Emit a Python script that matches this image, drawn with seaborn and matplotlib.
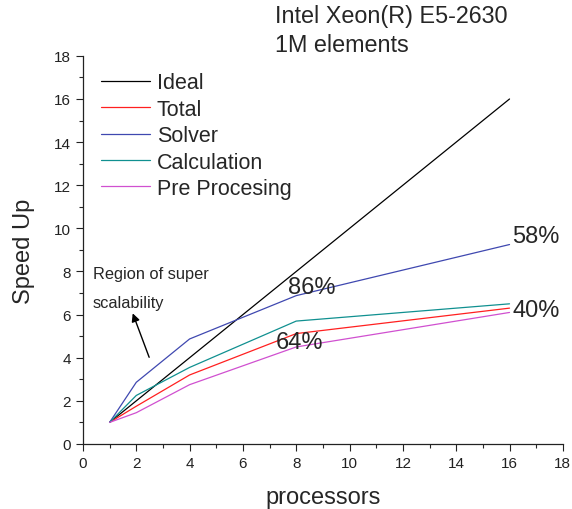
import matplotlib
matplotlib.use("Agg")
import matplotlib.pyplot as plt
from matplotlib.ticker import MultipleLocator
import seaborn as sns
import pandas as pd

# Speed-up measurements, 1M elements on Intel Xeon E5-2630
processors = [1, 2, 4, 8, 16]
ideal = [1, 2, 4, 8, 16]
total = [1, 1.75, 3.2, 5.12, 6.3]
solver = [1, 2.86, 4.87, 6.88, 9.25]
calculation = [1, 2.25, 3.55, 5.7, 6.5]
pre_processing = [1, 1.45, 2.75, 4.5, 6.1]

series_names = ["Ideal", "Total", "Solver", "Calculation", "Pre Procesing"]
series_values = [ideal, total, solver, calculation, pre_processing]
series_colors = ["#000000", "#ff2020", "#3f48b0", "#109090", "#d050d0"]

efficiency_labels = ["86%", "64%", "58%", "40%"]

sns.set_style("ticks")
plt.rcParams["font.family"] = ["Liberation Sans", "DejaVu Sans"]

rows = []
for name, vals in zip(series_names, series_values):
    for p, v in zip(processors, vals):
        rows.append({"processors": p, "speedup": v, "series": name})
df = pd.DataFrame(rows)

fig = plt.figure(figsize=(5.72, 5.10), dpi=100)
ax = fig.add_axes([0.145, 0.1275, 0.839, 0.761])

sns.lineplot(data=df, x="processors", y="speedup", hue="series",
             hue_order=series_names, palette=series_colors,
             linewidth=0.9, ax=ax, legend=True)

ax.set_xlim(0, 18)
ax.set_ylim(0, 18)
ax.xaxis.set_major_locator(MultipleLocator(2))
ax.xaxis.set_minor_locator(MultipleLocator(1))
ax.yaxis.set_major_locator(MultipleLocator(2))
ax.yaxis.set_minor_locator(MultipleLocator(1))
ax.tick_params(which="major", direction="out", length=5, width=0.8,
               labelsize=11, colors="#222222")
ax.tick_params(which="minor", direction="out", length=3, width=0.8)
sns.despine(ax=ax)
for s in ("left", "bottom"):
    ax.spines[s].set_linewidth(0.9)
    ax.spines[s].set_color("#222222")

ax.set_xlabel("processors", fontsize=17, labelpad=12)
ax.set_ylabel("Speed Up", fontsize=17, labelpad=14)

leg = ax.legend(loc="upper left", bbox_to_anchor=(0.015, 0.985), frameon=False,
                fontsize=15.5, handlelength=2.3, handletextpad=0.3,
                labelspacing=0.25, borderaxespad=0.3, borderpad=0.2)
for h in leg.get_lines():
    h.set_linewidth(0.9)

# Parallel efficiency annotations
ax.text(7.69, 7.27, efficiency_labels[0], fontsize=17, va="center", ha="left")
ax.text(7.24, 4.75, efficiency_labels[1], fontsize=17, va="center", ha="left")
ax.text(16.1, 9.66, efficiency_labels[2], fontsize=17, va="center", ha="left")
ax.text(16.1, 6.21, efficiency_labels[3], fontsize=17, va="center", ha="left")

ax.text(0.38, 7.9, "Region of super", fontsize=11.8, va="center", ha="left")
ax.text(0.38, 6.58, "scalability", fontsize=11.8, va="center", ha="left")
ax.annotate("", xy=(1.83, 6.18), xytext=(2.52, 3.9),
            arrowprops=dict(arrowstyle="-|>", color="black", lw=1.0,
                            mutation_scale=12))

fig.text(275 / 572, 1 - 17 / 510, "Intel Xeon(R) E5-2630", fontsize=16.8,
         va="center", ha="left")
fig.text(275 / 572, 1 - 45 / 510, "1M elements", fontsize=16.8,
         va="center", ha="left")

fig.savefig("out.png", dpi=100)
